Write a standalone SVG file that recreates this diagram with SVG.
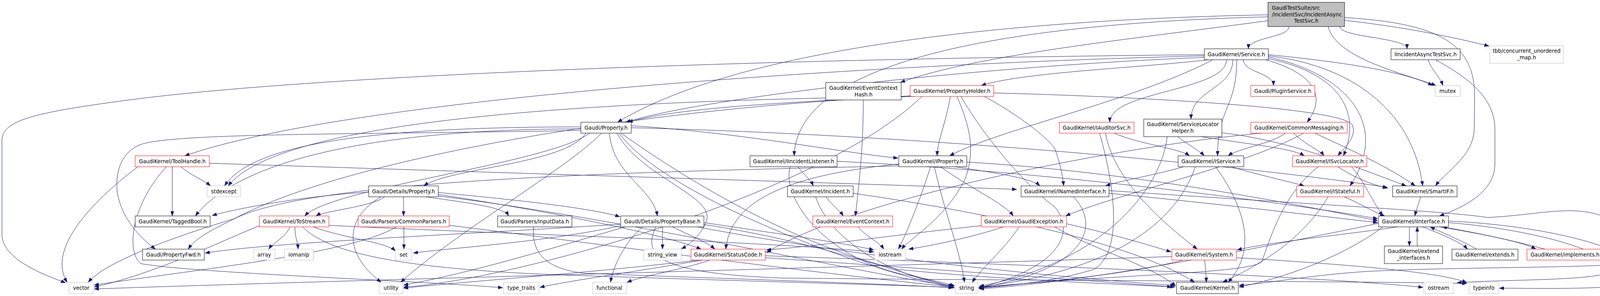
<svg xmlns="http://www.w3.org/2000/svg" width="4243" height="758" viewBox="0 0 4243 758">
<defs>
<marker id="arr" markerWidth="12" markerHeight="9" refX="12" refY="4.5" orient="auto" markerUnits="userSpaceOnUse"><path d="M0,0 L12,4.5 L0,9 z" fill="#191970" stroke="#191970" stroke-width="0.5"/></marker>
</defs>
<style>
.e path{fill:none;stroke:#191970;stroke-width:1;marker-end:url(#arr)}
.n rect{fill:#fff;stroke:#000;stroke-width:1}
.n.red rect{stroke:#ff0000}
.n.ext rect{stroke:#bfbfbf}
.n.root rect{fill:#bfbfbf}
text{font-family:"DejaVu Sans","Liberation Sans",sans-serif;font-size:13.3px;text-anchor:middle;fill:#000}
text.l{text-anchor:start}
</style>
<rect x="0" y="0" width="4243" height="758" fill="#fff"/>
<g id="edges" class="e">
<path d="M3300,68 C3300,96 3196,96 3196,125"/>
<path d="M3430,68 C3430,96 3602,96 3602,125"/>
<path d="M3442,52 C3600,70 3720,95 3812,118"/>
<path d="M3400,68 C3420,150 3600,190 3676,219"/>
<path d="M3246,38 C2600,50 1900,120 1581,313"/>
<path d="M3246,53 C2900,100 2500,140 2305,211"/>
<path d="M3246,43 C2600,60 2040,150 2033,399"/>
<path d="M3442,45 C3700,60 3776,120 3775,250 L3774,330 C3773,400 3700,440 3675,476"/>
<path d="M3656,153 C3665,180 3685,195 3694,219"/>
<path d="M3675,153 C3760,200 3826,250 3827,330 L3827,420 C3827,490 3750,530 3685,553"/>
<path d="M3083,147 C2500,170 1800,250 1602,313"/>
<path d="M3183,153 C3183,186 3260,186 3260,219"/>
<path d="M3095,153 C2900,175 2620,185 2512,219"/>
<path d="M3140,153 C3140,233 2841,233 2841,313"/>
<path d="M3156,153 C3156,229 3049,229 3049,305"/>
<path d="M3240,153 C3370,190 3395,250 3346,313"/>
<path d="M3083,143 C2200,165 900,250 473,399"/>
<path d="M3105,153 C2900,260 2560,330 2431,399"/>
<path d="M3166,153 C3166,276 3117,276 3117,399"/>
<path d="M3247,150 C3480,200 3470,330 3439,399"/>
<path d="M3247,146 C3450,190 3560,320 3456,476"/>
<path d="M3247,143 C3480,170 3620,300 3642,476"/>
<path d="M3247,140 C3450,160 3600,185 3668,219"/>
<path d="M3083,140 C2000,150 800,190 300,260 C80,290 5,310 5,360 L5,600 C5,660 100,700 168,724"/>
<path d="M2335,245 C2100,260 1750,270 1608,313"/>
<path d="M2433,247 C2420,320 2400,360 2399,399"/>
<path d="M2450,247 C2480,320 2500,380 2470,460 C2420,560 2330,610 2308,638"/>
<path d="M2460,247 C2520,350 2620,470 2700,530 C2760,600 2700,690 2505,737"/>
<path d="M2520,247 C2600,290 2680,350 2700,380 C2715,420 2720,450 2723,476"/>
<path d="M2544,238 C3000,250 3440,280 3462,320 C3475,350 3440,380 3425,399"/>
<path d="M2340,247 C1300,260 700,330 584,476"/>
<path d="M2335,247 C1700,270 900,400 600,560 C400,620 260,680 226,723"/>
<path d="M2360,247 C2100,500 1300,720 1033,735"/>
<path d="M1500,341 C1450,420 1150,430 1085,476"/>
<path d="M1560,341 C1570,450 1670,480 1683,553"/>
<path d="M1487,334 C900,345 450,340 360,370 C310,390 295,440 300,490 C310,560 360,610 398,638"/>
<path d="M1487,330 C1000,330 620,400 500,553"/>
<path d="M1487,325 C1000,325 650,360 575,476"/>
<path d="M1510,341 C1400,420 850,480 780,553"/>
<path d="M1616,322 C1900,340 2150,390 2299,405"/>
<path d="M1616,327 C2500,350 3300,440 3552,480"/>
<path d="M1590,341 C1700,420 2000,620 2300,690 C2600,720 2900,728 3000,735"/>
<path d="M1579,341 C1640,450 1820,500 1810,560 C1800,600 1760,630 1744,637"/>
<path d="M1585,341 C1700,500 2200,690 2444,737"/>
<path d="M1540,341 C1480,400 1400,450 1300,520 C1150,620 1060,690 1026,723"/>
<path d="M975,504 C880,560 880,650 976,723"/>
<path d="M985,504 C950,530 830,540 809,553"/>
<path d="M1033,504 L1033,553"/>
<path d="M1090,504 C1200,520 1290,530 1302,553"/>
<path d="M944,492 C800,500 620,530 543,552"/>
<path d="M1122,493 C1300,510 1500,530 1587,555"/>
<path d="M1122,498 C1400,540 1700,600 1795,638"/>
<path d="M1122,502 C1600,560 2200,700 2440,733"/>
<path d="M742,581 C730,610 700,620 688,638"/>
<path d="M755,581 C755,610 762,615 763,638"/>
<path d="M802,581 C880,610 990,620 1012,643"/>
<path d="M664,578 C560,620 400,700 241,735"/>
<path d="M775,581 C850,660 1100,690 1410,703 C1900,720 2300,730 2440,736"/>
<path d="M842,577 C1300,600 1900,615 2237,645"/>
<path d="M1015,581 C900,650 500,690 241,730"/>
<path d="M1034,581 L1034,638"/>
<path d="M1150,577 C1500,620 2000,690 2440,735"/>
<path d="M1366,581 C1360,650 1400,690 1500,700 C1900,715 2300,728 2440,737"/>
<path d="M1645,581 C1600,620 1570,680 1563,723"/>
<path d="M1696,581 L1696,638"/>
<path d="M1721,581 C1760,600 1810,620 1830,638"/>
<path d="M1589,574 C1200,600 700,620 525,648"/>
<path d="M1600,581 C1400,640 1200,700 1033,730"/>
<path d="M1802,575 C2100,620 2300,700 2440,734"/>
<path d="M1785,581 C2200,660 2700,710 3008,731"/>
<path d="M1802,570 C2000,600 2150,620 2237,640"/>
<path d="M1679,581 C1640,660 1700,700 2000,712 C2800,720 3500,720 3755,726"/>
<path d="M1589,578 C1400,620 1150,635 1058,648"/>
<path d="M1817,666 C1750,690 1650,705 1605,723"/>
<path d="M1799,666 C1600,700 1450,720 1382,736"/>
<path d="M1790,666 C1500,700 1200,720 1033,738"/>
<path d="M1959,660 C2400,690 2800,720 3008,735"/>
<path d="M1959,655 C2700,680 3400,710 3643,736"/>
<path d="M2197,581 C2210,600 2250,620 2263,638"/>
<path d="M2043,427 C2060,450 2075,460 2082,476"/>
<path d="M2143,413 C2700,440 3300,520 3527,560"/>
<path d="M2023,427 C2000,500 2100,650 2300,700 C2380,715 2420,725 2444,732"/>
<path d="M2114,504 C2130,525 2150,540 2159,553"/>
<path d="M2088,504 C2120,600 2250,700 2442,733"/>
<path d="M2184,495 C2500,540 2900,620 3058,723"/>
<path d="M2210,256 C2210,400 2195,500 2190,553"/>
<path d="M2445,427 C2530,440 2640,455 2662,476"/>
<path d="M2408,427 C2480,480 2570,520 2594,553"/>
<path d="M2382,427 C2360,500 2320,600 2300,638"/>
<path d="M2392,427 C2420,550 2460,650 2469,723"/>
<path d="M2475,415 C2900,440 3300,520 3527,565"/>
<path d="M2301,420 C2000,450 1870,520 1858,638"/>
<path d="M2301,425 C1600,440 800,460 600,560 C540,590 500,610 482,638"/>
<path d="M2839,495 C3100,520 3350,550 3527,570"/>
<path d="M2748,504 C2820,580 2780,690 2507,737"/>
<path d="M2569,581 C2480,610 2380,630 2326,638"/>
<path d="M2609,581 C2570,640 2510,690 2489,723"/>
<path d="M2512,578 C2300,600 2100,630 1962,640"/>
<path d="M2730,573 C2850,600 2950,630 2998,645"/>
<path d="M2700,581 C2800,640 2950,680 3010,733"/>
<path d="M2852,341 C2920,370 3020,380 3045,399"/>
<path d="M2830,341 C2850,450 2950,550 3065,638"/>
<path d="M2815,341 C2860,500 2870,650 2800,690 C2700,720 2600,730 2505,738"/>
<path d="M3015,350 C3040,370 3070,385 3083,399"/>
<path d="M3076,350 C3200,370 3310,380 3339,399"/>
<path d="M3128,340 C3300,360 3450,420 3600,476"/>
<path d="M2988,350 C2970,500 2800,680 2507,733"/>
<path d="M3291,341 C3250,370 3170,380 3144,399"/>
<path d="M3312,341 C3340,370 3380,385 3389,399"/>
<path d="M3366,341 C3450,380 3560,430 3623,476"/>
<path d="M3337,341 C3200,420 2850,500 2728,553"/>
<path d="M3230,341 C2900,370 2200,500 1962,647"/>
<path d="M3030,427 C2950,450 2880,460 2830,476"/>
<path d="M3112,427 C3200,550 3210,650 3144,723"/>
<path d="M3152,427 C3230,450 3300,465 3339,476"/>
<path d="M3060,427 C3000,600 2800,700 2507,735"/>
<path d="M3425,427 C3460,450 3500,470 3552,482"/>
<path d="M3460,427 C3490,460 3510,510 3540,553"/>
<path d="M3375,427 C3280,500 3250,620 3230,670 C3200,700 2900,700 2507,736"/>
<path d="M3441,504 C3480,520 3510,540 3545,553"/>
<path d="M3400,504 C3330,620 3220,680 3130,723"/>
<path d="M3637,504 C3630,525 3625,540 3622,553"/>
<path d="M3608,581 L3608,630"/>
<path d="M3628,630 L3628,581"/>
<path d="M3642,581 C3690,600 3740,620 3757,638"/>
<path d="M3780,638 C3740,615 3690,595 3661,581"/>
<path d="M3685,581 C3800,600 3900,620 3932,638"/>
<path d="M3955,638 C3870,615 3760,592 3692,581"/>
<path d="M3578,581 C3450,600 3250,620 3167,640"/>
<path d="M3708,566 C4000,580 4215,650 4215,710 C4215,745 3950,738 3838,738"/>
<path d="M3708,570 C3950,590 4126,650 4126,690 C4126,720 3850,715 3730,724"/>
<path d="M2839,488 C3300,520 3700,540 3808,557 C3950,550 4030,520 4120,560 C4200,600 4238,640 4236,660 C4230,690 3800,680 3500,695 C3350,705 3250,725 3172,731"/>
<path d="M3540,581 C3450,650 3300,710 3172,735"/>
<path d="M3529,572 C3200,640 2800,720 2507,740"/>
<path d="M3084,666 C3086,690 3088,705 3088,723"/>
<path d="M3029,666 C2900,700 2700,720 2507,737"/>
<path d="M3165,660 C3500,680 3700,700 3755,724"/>
<path d="M3000,657 C2000,690 800,720 241,740"/>
<path d="M441,427 L441,553"/>
<path d="M463,427 C490,450 520,460 539,476"/>
<path d="M353,427 C230,520 120,640 172,723"/>
<path d="M426,427 C340,520 320,640 360,675 C500,700 1100,720 1287,737"/>
<path d="M536,418 C1200,440 2200,470 2603,485"/>
</g>
<g id="n_root" class="n root"><rect x="3246" y="6" width="196" height="62"/><text class="l" x="3256" y="24.5">GaudiTestSuite/src</text><text class="l" x="3256" y="41.5">/IncidentSvc/IncidentAsync</text><text x="3344" y="57.5">TestSvc.h</text></g>
<g id="n_service" class="n"><rect x="3083" y="125" width="164" height="28"/><text x="3165" y="143.5">GaudiKernel/Service.h</text></g>
<g id="n_iasync" class="n"><rect x="3561" y="125" width="177" height="28"/><text x="3649.5" y="143.5">IIncidentAsyncTestSvc.h</text></g>
<g id="n_tbb" class="n ext"><rect x="3814" y="117" width="188" height="45"/><text x="3908" y="134.5">tbb/concurrent_unordered</text><text x="3908" y="151.5">_map.h</text></g>
<g id="n_mutex" class="n ext"><rect x="3674" y="219" width="64" height="28"/><text x="3706" y="237.5">mutex</text></g>
<g id="n_plugin" class="n red"><rect x="3202" y="219" width="164" height="28"/><text x="3284" y="237.5">Gaudi/PluginService.h</text></g>
<g id="n_ech" class="n"><rect x="2114" y="211" width="193" height="45"/><text x="2210.5" y="229.5">GaudiKernel/EventContext</text><text x="2210.5" y="246.5">Hash.h</text></g>
<g id="n_pholder" class="n red"><rect x="2330" y="219" width="214" height="28"/><text x="2437" y="237.5">GaudiKernel/PropertyHolder.h</text></g>
<g id="n_property" class="n"><rect x="1487" y="313" width="129" height="28"/><text x="1551.5" y="331.5">Gaudi/Property.h</text></g>
<g id="n_iaud" class="n red"><rect x="2712" y="313" width="191" height="28"/><text x="2807.5" y="331.5">GaudiKernel/IAuditorSvc.h</text></g>
<g id="n_slh" class="n"><rect x="2928" y="305" width="200" height="45"/><text x="3028" y="322.5">GaudiKernel/ServiceLocator</text><text x="3028" y="339.5">Helper.h</text></g>
<g id="n_cmsg" class="n red"><rect x="3202" y="313" width="247" height="28"/><text x="3325.5" y="331.5">GaudiKernel/CommonMessaging.h</text></g>
<g id="n_toolh" class="n red"><rect x="346" y="399" width="190" height="28"/><text x="441" y="417.5">GaudiKernel/ToolHandle.h</text></g>
<g id="n_iil" class="n"><rect x="1920" y="399" width="223" height="28"/><text x="2031.5" y="417.5">GaudiKernel/IIncidentListener.h</text></g>
<g id="n_iprop" class="n"><rect x="2301" y="399" width="174" height="28"/><text x="2388" y="417.5">GaudiKernel/IProperty.h</text></g>
<g id="n_isvc" class="n"><rect x="3016" y="399" width="168" height="28"/><text x="3100" y="417.5">GaudiKernel/IService.h</text></g>
<g id="n_isl" class="n red"><rect x="3309" y="399" width="190" height="28"/><text x="3404" y="417.5">GaudiKernel/ISvcLocator.h</text></g>
<g id="n_stdexcept" class="n ext"><rect x="530" y="476" width="86" height="28"/><text x="573" y="494.5">stdexcept</text></g>
<g id="n_dprop" class="n"><rect x="944" y="476" width="178" height="28"/><text x="1033" y="494.5">Gaudi/Details/Property.h</text></g>
<g id="n_incident" class="n"><rect x="2016" y="476" width="168" height="28"/><text x="2100" y="494.5">GaudiKernel/Incident.h</text></g>
<g id="n_inamed" class="n"><rect x="2614" y="476" width="225" height="28"/><text x="2726.5" y="494.5">GaudiKernel/INamedInterface.h</text></g>
<g id="n_istate" class="n red"><rect x="3319" y="476" width="172" height="28"/><text x="3405" y="494.5">GaudiKernel/IStateful.h</text></g>
<g id="n_smartif" class="n"><rect x="3565" y="476" width="165" height="28"/><text x="3647.5" y="494.5">GaudiKernel/SmartIF.h</text></g>
<g id="n_tagged" class="n"><rect x="346" y="553" width="192" height="28"/><text x="442" y="571.5">GaudiKernel/TaggedBool.h</text></g>
<g id="n_tostream" class="n red"><rect x="664" y="553" width="178" height="28"/><text x="753" y="571.5">GaudiKernel/ToStream.h</text></g>
<g id="n_cparsers" class="n red"><rect x="917" y="553" width="233" height="28"/><text x="1033.5" y="571.5">Gaudi/Parsers/CommonParsers.h</text></g>
<g id="n_input" class="n"><rect x="1274" y="553" width="190" height="28"/><text x="1369" y="571.5">Gaudi/Parsers/InputData.h</text></g>
<g id="n_pbase" class="n"><rect x="1589" y="553" width="213" height="28"/><text x="1695.5" y="571.5">Gaudi/Details/PropertyBase.h</text></g>
<g id="n_evctx" class="n red"><rect x="2081" y="553" width="204" height="28"/><text x="2183" y="571.5">GaudiKernel/EventContext.h</text></g>
<g id="n_gexc" class="n red"><rect x="2512" y="553" width="218" height="28"/><text x="2621" y="571.5">GaudiKernel/GaudiException.h</text></g>
<g id="n_iface" class="n"><rect x="3529" y="553" width="179" height="28"/><text x="3618.5" y="571.5">GaudiKernel/IInterface.h</text></g>
<g id="n_pfwd" class="n"><rect x="365" y="638" width="158" height="28"/><text x="444" y="656.5">Gaudi/PropertyFwd.h</text></g>
<g id="n_array" class="n ext"><rect x="649" y="638" width="55" height="28"/><text x="676.5" y="656.5">array</text></g>
<g id="n_iomanip" class="n ext"><rect x="728" y="638" width="74" height="28"/><text x="765" y="656.5">iomanip</text></g>
<g id="n_set" class="n ext"><rect x="1012" y="638" width="42" height="28"/><text x="1033" y="656.5">set</text></g>
<g id="n_sview" class="n ext"><rect x="1648" y="638" width="96" height="28"/><text x="1696" y="656.5">string_view</text></g>
<g id="n_status" class="n red"><rect x="1769" y="638" width="190" height="28"/><text x="1864" y="656.5">GaudiKernel/StatusCode.h</text></g>
<g id="n_iostream" class="n ext"><rect x="2239" y="638" width="79" height="28"/><text x="2278.5" y="656.5">iostream</text></g>
<g id="n_system" class="n red"><rect x="3000" y="638" width="165" height="28"/><text x="3082.5" y="656.5">GaudiKernel/System.h</text></g>
<g id="n_extif" class="n"><rect x="3544" y="630" width="149" height="45"/><text x="3618.5" y="647.5">GaudiKernel/extend</text><text x="3618.5" y="664.5">_interfaces.h</text></g>
<g id="n_extends" class="n"><rect x="3717" y="638" width="169" height="28"/><text x="3801.5" y="656.5">GaudiKernel/extends.h</text></g>
<g id="n_impl" class="n red"><rect x="3909" y="638" width="195" height="28"/><text x="4006.5" y="656.5">GaudiKernel/implements.h</text></g>
<g id="n_vector" class="n ext"><rect x="177" y="723" width="62" height="29"/><text x="208" y="742">vector</text></g>
<g id="n_utility" class="n ext"><rect x="971" y="723" width="60" height="29"/><text x="1001" y="742">utility</text></g>
<g id="n_ttraits" class="n ext"><rect x="1289" y="723" width="91" height="29"/><text x="1334.5" y="742">type_traits</text></g>
<g id="n_functional" class="n ext"><rect x="1517" y="723" width="86" height="29"/><text x="1560" y="742">functional</text></g>
<g id="n_string" class="n ext"><rect x="2446" y="723" width="57" height="29"/><text x="2474.5" y="742">string</text></g>
<g id="n_kernel" class="n"><rect x="3012" y="723" width="158" height="29"/><text x="3091" y="742">GaudiKernel/Kernel.h</text></g>
<g id="n_ostream" class="n ext"><rect x="3645" y="723" width="75" height="29"/><text x="3682.5" y="742">ostream</text></g>
<g id="n_typeinfo" class="n ext"><rect x="3761" y="723" width="75" height="29"/><text x="3798.5" y="742">typeinfo</text></g>
</svg>
